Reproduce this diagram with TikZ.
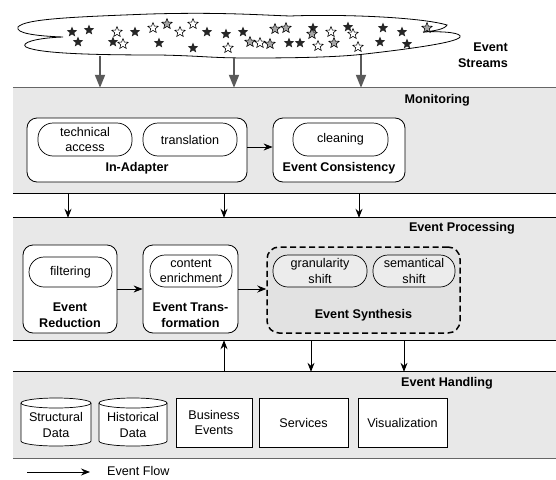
\documentclass[tikz,border=0pt]{standalone}
\usepackage{fontspec}
\setmainfont{Liberation Sans}
\usetikzlibrary{arrows.meta,shapes.geometric}
\definecolor{bandgray}{RGB}{232,232,232}
\definecolor{synthgray}{RGB}{226,226,226}
\definecolor{synthpill}{RGB}{236,236,236}
\definecolor{streamgray}{RGB}{90,90,90}
\newcommand\figfont{\fontsize{12.6}{15.5}\selectfont}
\tikzset{
  band/.style={fill=bandgray, draw=none, inner sep=0pt, minimum width=543pt},
  outerbox/.style={draw, fill=white, rounded corners=10pt, line width=0.8pt, inner sep=0pt},
  synthbox/.style={draw, fill=synthgray, rounded corners=12pt, line width=1.5pt,
    dash pattern=on 6pt off 3.5pt, inner sep=0pt},
  pill/.style={draw, fill=white, rounded corners=15pt, line width=0.7pt, inner sep=0pt,
    align=center, font=\figfont},
  boxlabel/.style={align=center, inner sep=0pt, font=\figfont\bfseries},
  bandlabel/.style={anchor=east, align=right, inner sep=0pt, font=\figfont\bfseries},
  plainbox/.style={draw, fill=white, line width=0.7pt, inner sep=0pt, align=center, font=\figfont},
  cyltext/.style={inner sep=0pt, align=center, font=\figfont},
  cylline/.style={draw, fill=white, line width=0.7pt},
  flow/.style={-{Stealth[length=9pt,width=7pt,inset=3pt]}, line width=0.8pt},
  stream/.style={-{Triangle[length=13pt,width=10pt]}, line width=1.8pt, draw=streamgray, color=streamgray},
  fstar/.style={star, star points=5, star point ratio=2.3, minimum size=11pt, inner sep=0pt,
    fill=black!85, draw=none},
  ostar/.style={star, star points=5, star point ratio=2.3, minimum size=11pt, inner sep=0pt,
    fill=white, draw=black, line width=0.55pt},
  gstar/.style={ostar, fill=black!35},
}
\begin{document}
\begin{tikzpicture}[x=1pt, y=-1pt, font=\figfont]
\useasboundingbox (0,0) rectangle (556,479);

% ---------------- layer bands ----------------
\node[band, minimum height=105pt] (mon)  at (284.5,140.5) {};
\node[band, minimum height=122pt] (proc) at (284.5,279) {};
\node[band, minimum height=86pt]  (hand) at (284.5,415) {};
\draw[line width=0.9pt, black!60] (mon.north west) -- (mon.north east);
\draw[line width=0.9pt] (mon.south west) -- (mon.south east);
\draw[line width=0.9pt] (proc.north west) -- (proc.north east);
\draw[line width=0.9pt] (proc.south west) -- (proc.south east);
\draw[line width=0.9pt] (hand.north west) -- (hand.north east);
\draw[line width=0.9pt, black!60] (hand.south west) -- (hand.south east);

% ---------------- event cloud ----------------
\draw[line width=0.8pt, fill=white]
  (18,27)
  .. controls (25,19) and (70,17) .. (150,14)
  .. controls (220,12) and (260,15) .. (290,16)
  .. controls (340,14) and (420,17) .. (447,25)
  .. controls (445,29) and (435,31) .. (423,32)
  .. controls (445,31) and (462,33) .. (460,37)
  .. controls (457,43) and (400,50) .. (365,54)
  .. controls (340,57) and (300,58) .. (250,58)
  .. controls (210,58) and (205,56) .. (160,55)
  .. controls (100,55) and (40,54) .. (26,47)
  .. controls (20,43) and (35,38) .. (63,37)
  .. controls (35,36) and (15,33) .. cycle;
\coordinate (s1) at (100,56);
\coordinate (s2) at (234,58);
\coordinate (s3) at (361,55);

% stars, upper row
\node[fstar] (st1) at (72,32) {};
\node[fstar] (st2) at (89,30) {};
\node[ostar] (st3) at (117,32) {};
\node[fstar] (st4) at (135,32) {};
\node[ostar] (st5) at (153,28) {};
\node[gstar] (st6) at (167,24) {};
\node[ostar] (st7) at (180,32) {};
\node[ostar] (st8) at (193,24) {};
\node[fstar] (st9) at (207,32) {};
\node[fstar] (st10) at (226,34) {};
\node[fstar] (st11) at (243,32) {};
\node[gstar] (st12) at (275,29) {};
\node[gstar] (st13) at (286,28) {};
\node[fstar] (st14) at (313,28) {};
\node[gstar] (st15) at (312,34) {};
\node[ostar] (st16) at (331,32) {};
\node[fstar] (st17) at (348,27) {};
\node[ostar] (st18) at (353,34) {};
\node[fstar] (st19) at (383,28) {};
\node[fstar] (st20) at (402,32) {};
\node[gstar] (st21) at (427,28) {};
% stars, lower row
\node[fstar] (st22) at (78,42) {};
\node[fstar] (st23) at (113,42) {};
\node[ostar] (st24) at (123,44) {};
\node[fstar] (st25) at (159,43) {};
\node[fstar] (st26) at (193,48) {};
\node[ostar] (st27) at (228,48) {};
\node[gstar] (st28) at (250,42) {};
\node[ostar] (st29) at (260,43) {};
\node[gstar] (st30) at (270,44) {};
\node[fstar] (st31) at (289,43) {};
\node[fstar] (st32) at (300,43) {};
\node[ostar] (st33) at (318,46) {};
\node[gstar] (st34) at (334,43) {};
\node[ostar] (st35) at (358,47) {};
\node[fstar] (st36) at (380,42) {};
\node[fstar] (st37) at (407,44) {};

\node[bandlabel] (lstreams) at (508,55) {Event\\Streams};

% streams into monitoring
\draw[stream] (s1) -- (s1 |- mon.north);
\draw[stream] (s2) -- (s2 |- mon.north);
\draw[stream] (s3) -- (s3 |- mon.north);

% ---------------- monitoring ----------------
\node[bandlabel] (lmon) at (470,100) {Monitoring};
\node[outerbox, minimum width=220pt, minimum height=64pt] (adapter) at (137,150) {};
\node[pill, minimum width=94pt, minimum height=33pt] (techacc) at (85,139.5) {technical\\access};
\node[pill, minimum width=94pt, minimum height=33pt] (transl) at (190,139.5) {translation};
\node[boxlabel] (ladapter) at (137,168) {In-Adapter};
\node[outerbox, minimum width=132pt, minimum height=64pt] (consist) at (339,150) {};
\node[pill, minimum width=95pt, minimum height=33pt] (clean) at (340.5,139.5) {cleaning};
\node[boxlabel] (lconsist) at (339,168) {Event Consistency};
\draw[flow] ([yshift=3pt]adapter.east) -- ([yshift=3pt]consist.west);

% monitoring to processing
\coordinate (m1) at (68,0);
\coordinate (m2) at (224,0);
\coordinate (m3) at (359,0);
\draw[flow] (m1 |- mon.south) -- (m1 |- proc.north);
\draw[flow] (m2 |- mon.south) -- (m2 |- proc.north);
\draw[flow] (m3 |- mon.south) -- (m3 |- proc.north);

% ---------------- processing ----------------
\node[bandlabel] (lproc) at (515,228) {Event Processing};
\node[outerbox, minimum width=94pt, minimum height=88pt] (reduct) at (70,289) {};
\node[pill, minimum width=83pt, minimum height=30pt] (filter) at (70.5,272) {filtering};
\node[boxlabel] (lreduct) at (70,315) {Event\\Reduction};
\node[outerbox, minimum width=95pt, minimum height=88pt] (transf) at (190.5,289) {};
\node[pill, minimum width=82pt, minimum height=32pt] (enrich) at (191,271) {content\\enrichment};
\node[boxlabel] (ltransf) at (190.5,315) {Event Trans-\\formation};
\node[synthbox, minimum width=193pt, minimum height=86pt] (synth) at (363.5,290) {};
\node[pill, fill=synthpill, minimum width=94pt, minimum height=32pt] (gran) at (320,271) {granularity\\shift};
\node[pill, fill=synthpill, minimum width=82pt, minimum height=32pt] (sem) at (414,271) {semantical\\shift};
\node[boxlabel] (lsynth) at (363.5,315) {Event Synthesis};
\draw[flow] (reduct.east) -- (reduct.east -| transf.west);
\draw[flow] (transf.east) -- (transf.east -| synth.west);

% processing to handling and back
\coordinate (h1) at (224,0);
\coordinate (h2) at (311,0);
\coordinate (h3) at (404,0);
\draw[flow] (h1 |- hand.north) -- (h1 |- proc.south);
\draw[flow] (h2 |- proc.south) -- (h2 |- hand.north);
\draw[flow] (h3 |- proc.south) -- (h3 |- hand.north);

% ---------------- handling ----------------
\node[bandlabel] (lhand) at (493,383) {Event Handling};
% data stores drawn as cylinders around their label nodes
\foreach \cx/\rx in {56/35,133/34}{
  \draw[cylline] (\cx-\rx,403) -- (\cx-\rx,441)
    arc[start angle=180, end angle=360, x radius=\rx pt, y radius=5pt]
    -- (\cx+\rx,403)
    arc[start angle=0, end angle=180, x radius=\rx pt, y radius=5pt] -- cycle;
  \draw[line width=0.7pt] (\cx-\rx,403)
    arc[start angle=180, end angle=360, x radius=\rx pt, y radius=5pt];
}
\node[cyltext] (struct) at (56,425) {Structural\\Data};
\node[cyltext] (hist) at (133,425) {Historical\\Data};
\node[plainbox, minimum width=76pt, minimum height=49pt] (busev) at (214,422.5) {Business\\Events};
\node[plainbox, minimum width=89pt, minimum height=49pt] (serv) at (303.5,422.5) {Services};
\node[plainbox, minimum width=89pt, minimum height=49pt] (vis) at (402.5,422.5) {Visualization};

% ---------------- legend ----------------
\coordinate (lg1) at (27,472);
\node[anchor=west, inner sep=0pt] (lflow) at (107,470.5) {Event Flow};
\draw[flow] (lg1) -- (90,472);
\end{tikzpicture}
\end{document}
